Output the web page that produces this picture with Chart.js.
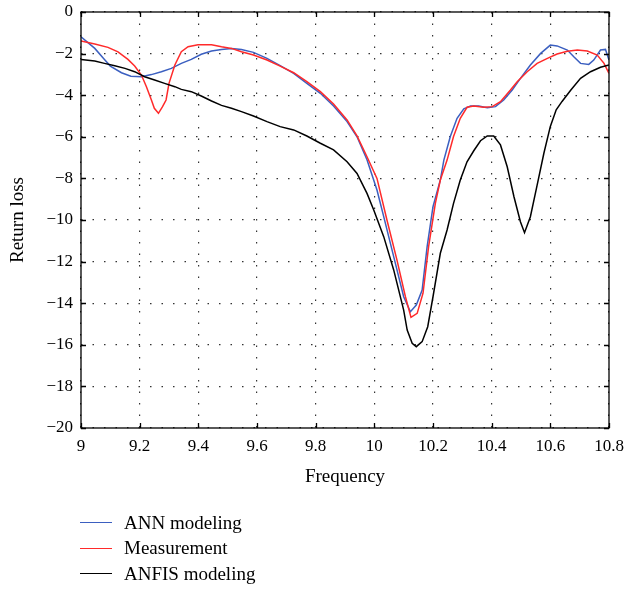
<!DOCTYPE html>
<html lang="en">
<head>
  <meta charset="UTF-8">
  <title>Return loss</title>
  <style>
    body {
      margin: 0;
      background: #fff;
    }
    .wrap {
      position: relative;
      width: 626px;
      height: 591px;
    }
    .legend {
      position: absolute;
      left: 80px;
      top: 510px;
      font-family: "Liberation Serif", "DejaVu Serif", serif;
      font-size: 19px;
      color: #000;
    }
    .legend div {
      display: flex;
      align-items: center;
      height: 25.5px;
    }
    .legend span {
      display: inline-block;
      width: 32px;
      height: 0;
      border-top: 1.5px solid;
      margin-right: 12px;
    }
  </style>
</head>
<body>
  <div class="wrap">
    <canvas id="chart" width="626" height="591"></canvas>
    <div class="legend">
      <div><span style="border-color: #3b5fc0;"></span>ANN modeling</div>
      <div><span style="border-color: #ff2a2a;"></span>Measurement</div>
      <div><span style="border-color: #000;"></span>ANFIS modeling</div>
    </div>
  </div>
  <script src="https://cdn.jsdelivr.net/npm/chart.js@4.4.9/dist/chart.umd.min.js"></script>
  <script>
    const annFreq = [9.0, 9.047, 9.08, 9.10, 9.138, 9.17, 9.206, 9.24, 9.274, 9.308, 9.342, 9.376, 9.41, 9.445, 9.479, 9.513, 9.547, 9.588, 9.634, 9.679, 9.725, 9.77, 9.816, 9.861, 9.907, 9.941, 9.975, 10.009, 10.032, 10.066, 10.10, 10.123, 10.143, 10.163, 10.18, 10.20, 10.225, 10.237, 10.259, 10.282, 10.305, 10.328, 10.356, 10.385, 10.413, 10.441, 10.47, 10.498, 10.532, 10.567, 10.60, 10.623, 10.658, 10.68, 10.703, 10.731, 10.748, 10.771, 10.788, 10.80]
    const annLoss = [-1.19, -1.75, -2.28, -2.6, -2.92, -3.09, -3.11, -3.01, -2.87, -2.71, -2.47, -2.28, -2.03, -1.88, -1.80, -1.76, -1.80, -1.94, -2.23, -2.58, -2.95, -3.43, -3.91, -4.52, -5.27, -6.0, -7.1, -8.56, -9.84, -11.76, -13.69, -14.41, -14.09, -13.37, -11.28, -9.36, -8.08, -7.12, -5.99, -5.11, -4.66, -4.52, -4.52, -4.60, -4.55, -4.23, -3.75, -3.19, -2.55, -1.99, -1.59, -1.63, -1.83, -2.15, -2.47, -2.52, -2.31, -1.83, -1.80, -2.31]

    const measFreq = [9.0, 9.047, 9.092, 9.126, 9.16, 9.183, 9.206, 9.223, 9.24, 9.25, 9.264, 9.278, 9.29, 9.30, 9.32, 9.342, 9.365, 9.399, 9.445, 9.479, 9.513, 9.547, 9.588, 9.634, 9.679, 9.725, 9.77, 9.816, 9.861, 9.907, 9.941, 9.975, 10.009, 10.043, 10.077, 10.106, 10.125, 10.146, 10.166, 10.185, 10.208, 10.225, 10.248, 10.27, 10.293, 10.316, 10.339, 10.373, 10.402, 10.43, 10.464, 10.487, 10.521, 10.555, 10.59, 10.623, 10.658, 10.692, 10.726, 10.76, 10.783, 10.80]
    const measLoss = [-1.39, -1.54, -1.70, -1.92, -2.28, -2.6, -3.03, -3.59, -4.23, -4.63, -4.87, -4.55, -4.23, -3.43, -2.55, -1.91, -1.67, -1.57, -1.57, -1.67, -1.75, -1.91, -2.07, -2.31, -2.60, -2.92, -3.35, -3.83, -4.42, -5.19, -5.96, -6.96, -8.0, -10.0, -11.92, -13.69, -14.68, -14.49, -13.52, -11.28, -9.2, -8.08, -7.12, -5.99, -5.11, -4.58, -4.52, -4.58, -4.55, -4.31, -3.75, -3.35, -2.87, -2.47, -2.23, -2.02, -1.89, -1.83, -1.88, -2.07, -2.47, -2.95]

    const anfisFreq = [9.0, 9.047, 9.08, 9.115, 9.15, 9.183, 9.217, 9.251, 9.285, 9.32, 9.342, 9.376, 9.41, 9.445, 9.479, 9.513, 9.547, 9.588, 9.634, 9.679, 9.725, 9.77, 9.816, 9.861, 9.907, 9.941, 9.975, 9.998, 10.032, 10.066, 10.10, 10.112, 10.129, 10.143, 10.163, 10.182, 10.20, 10.225, 10.248, 10.27, 10.293, 10.316, 10.339, 10.362, 10.385, 10.407, 10.43, 10.453, 10.476, 10.498, 10.512, 10.532, 10.555, 10.578, 10.60, 10.62, 10.64, 10.67, 10.703, 10.737, 10.771, 10.80]
    const anfisLoss = [-2.28, -2.36, -2.47, -2.58, -2.71, -2.87, -3.11, -3.27, -3.43, -3.59, -3.72, -3.83, -4.04, -4.28, -4.49, -4.63, -4.79, -5.0, -5.27, -5.51, -5.67, -5.96, -6.31, -6.63, -7.2, -7.76, -8.72, -9.52, -10.8, -12.4, -14.33, -15.29, -15.93, -16.09, -15.85, -15.13, -13.69, -11.6, -10.48, -9.2, -8.08, -7.2, -6.67, -6.19, -5.96, -5.96, -6.39, -7.44, -8.88, -10.08, -10.61, -9.84, -8.32, -6.79, -5.5, -4.7, -4.3, -3.75, -3.19, -2.87, -2.66, -2.55]

    const xTicks = [9, 9.2, 9.4, 9.6, 9.8, 10, 10.2, 10.4, 10.6, 10.8]
    const yTicks = [0, -2, -4, -6, -8, -10, -12, -14, -16, -18, -20]

    const serif = '"Liberation Serif", "DejaVu Serif", serif'

    const toPoints = (xs, ys) => xs.map((x, i) => ({ x: x, y: ys[i] }))
    const fmt = v => String(Number(v.toFixed(1))).replace('-', '\u2212')

    // box round the plot with ticks pointing inwards on all four sides
    const frame = {
      id: 'frame',
      afterDraw(chart) {
        const { ctx, chartArea: a, scales } = chart
        const len = 5
        ctx.save()
        ctx.strokeStyle = '#000'
        ctx.lineWidth = 1.3
        ctx.strokeRect(a.left, a.top, a.right - a.left, a.bottom - a.top)
        ctx.beginPath()
        xTicks.forEach(t => {
          const px = Math.round(scales.x.getPixelForValue(t)) + 0.5
          ctx.moveTo(px, a.bottom); ctx.lineTo(px, a.bottom - len)
          ctx.moveTo(px, a.top); ctx.lineTo(px, a.top + len)
        })
        yTicks.forEach(t => {
          const py = Math.round(scales.y.getPixelForValue(t)) + 0.5
          ctx.moveTo(a.left, py); ctx.lineTo(a.left + len, py)
          ctx.moveTo(a.right, py); ctx.lineTo(a.right - len, py)
        })
        ctx.stroke()
        ctx.restore()
      }
    }

    const line = (label, data, color) => ({
      label: label,
      data: data,
      borderColor: color,
      borderWidth: 1.5,
      pointRadius: 0,
      tension: 0,
      fill: false
    })

    new Chart(document.getElementById('chart'), {
      type: 'line',
      data: {
        datasets: [
          line('ANFIS modeling', toPoints(anfisFreq, anfisLoss), '#000000'),
          line('Measurement', toPoints(measFreq, measLoss), '#ff2a2a'),
          line('ANN modeling', toPoints(annFreq, annLoss), '#3b5fc0')
        ]
      },
      options: {
        responsive: false,
        animation: false,
        devicePixelRatio: 1,
        layout: { padding: { top: 12, right: 17, bottom: 103, left: 0 } },
        plugins: {
          legend: { display: false },
          tooltip: { enabled: false }
        },
        scales: {
          x: {
            type: 'linear',
            min: 9,
            max: 10.8,
            afterFit: s => {
              s.height = 60
              s.paddingLeft = 0
              s.paddingRight = 0
            },
            afterBuildTicks: s => { s.ticks = xTicks.map(v => ({ value: v })) },
            ticks: {
              padding: 8,
              color: '#000',
              font: { family: serif, size: 17 },
              callback: v => fmt(v),
              maxRotation: 0,
              autoSkip: false
            },
            grid: { color: '#333', lineWidth: 1.2, drawTicks: false },
            border: { display: false, dash: [1.5, 10] },
            title: {
              display: true,
              text: 'Frequency',
              color: '#000',
              font: { family: serif, size: 19, lineHeight: 1.2 },
              padding: 0
            }
          },
          y: {
            min: -20,
            max: 0,
            afterFit: s => {
              s.width = 81
              s.paddingTop = 0
              s.paddingBottom = 0
            },
            afterBuildTicks: s => { s.ticks = yTicks.map(v => ({ value: v })) },
            ticks: {
              padding: 8,
              color: '#000',
              font: { family: serif, size: 17 },
              callback: v => fmt(v),
              autoSkip: false
            },
            grid: { color: '#333', lineWidth: 1.2, drawTicks: false },
            border: { display: false, dash: [1.5, 10] },
            title: {
              display: true,
              text: 'Return loss',
              color: '#000',
              font: { family: serif, size: 19, lineHeight: 1.2 },
              padding: { top: 7, bottom: 0 }
            }
          }
        }
      },
      plugins: [frame]
    })
  </script>
</body>
</html>
